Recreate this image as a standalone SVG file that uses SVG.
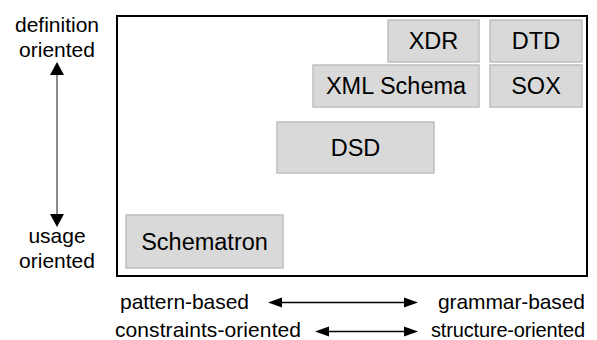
<svg xmlns="http://www.w3.org/2000/svg" width="597" height="340" viewBox="0 0 597 340">
  <style>
    text { font-family: "Liberation Sans", Arial, sans-serif; fill: #000; }
    .axis { font-size: 21px; }
    .lbl { font-size: 23.5px; text-anchor: middle; }
    .box { fill: #d9d9d9; stroke: #bfbfbf; stroke-width: 1.5; }
    .frame { fill: #fff; stroke: #000; stroke-width: 2; }
    .vline { stroke: #6e6e6e; stroke-width: 1.6; fill: none; }
    .hline { stroke: #000; stroke-width: 1.3; fill: none; }
    .head { fill: #000; }
  </style>

  <!-- outer frame -->
  <rect class="frame" x="117" y="16" width="470" height="260"/>

  <!-- schema languages -->
  <g id="xdr">
    <rect class="box" x="388" y="20" width="91" height="42"/>
    <text class="lbl" x="433.5" y="49">XDR</text>
  </g>
  <g id="dtd">
    <rect class="box" x="490" y="20" width="92" height="42"/>
    <text class="lbl" x="536" y="49">DTD</text>
  </g>
  <g id="xml-schema">
    <rect class="box" x="313" y="65" width="166" height="42"/>
    <text class="lbl" x="396" y="94">XML Schema</text>
  </g>
  <g id="sox">
    <rect class="box" x="490" y="65" width="92" height="42"/>
    <text class="lbl" x="536" y="94">SOX</text>
  </g>
  <g id="dsd">
    <rect class="box" x="277" y="122" width="157" height="51"/>
    <text class="lbl" x="355.5" y="155.5">DSD</text>
  </g>
  <g id="schematron">
    <rect class="box" x="126" y="215" width="157" height="53"/>
    <text class="lbl" x="204.5" y="249.5">Schematron</text>
  </g>

  <!-- axis labels -->
  <g id="axis-labels" class="axis">
    <text x="57" y="32" text-anchor="middle">definition</text>
    <text x="57" y="57" text-anchor="middle">oriented</text>
    <text x="57" y="243" text-anchor="middle">usage</text>
    <text x="57" y="268" text-anchor="middle">oriented</text>
    <text x="120" y="309" textLength="129">pattern-based</text>
    <text x="115" y="337" textLength="186">constraints-oriented</text>
    <text x="438" y="309" textLength="147">grammar-based</text>
    <text x="431" y="337" textLength="154" font-size="20">structure-oriented</text>
  </g>

  <!-- axis arrows -->
  <g id="connectors">
    <line class="vline" x1="57" y1="72" x2="57" y2="217"/>
    <polygon class="head" points="57,62 50,75 64,75"/>
    <polygon class="head" points="57,227 50,214 64,214"/>

    <line class="hline" x1="278" y1="302.5" x2="408" y2="302.5"/>
    <polygon class="head" points="268,302.5 282,297.5 282,307.5"/>
    <polygon class="head" points="418,302.5 404,297.5 404,307.5"/>

    <line class="hline" x1="325" y1="331.5" x2="408" y2="331.5"/>
    <polygon class="head" points="315,331.5 329,326.5 329,336.5"/>
    <polygon class="head" points="418,331.5 404,326.5 404,336.5"/>
  </g>
</svg>
